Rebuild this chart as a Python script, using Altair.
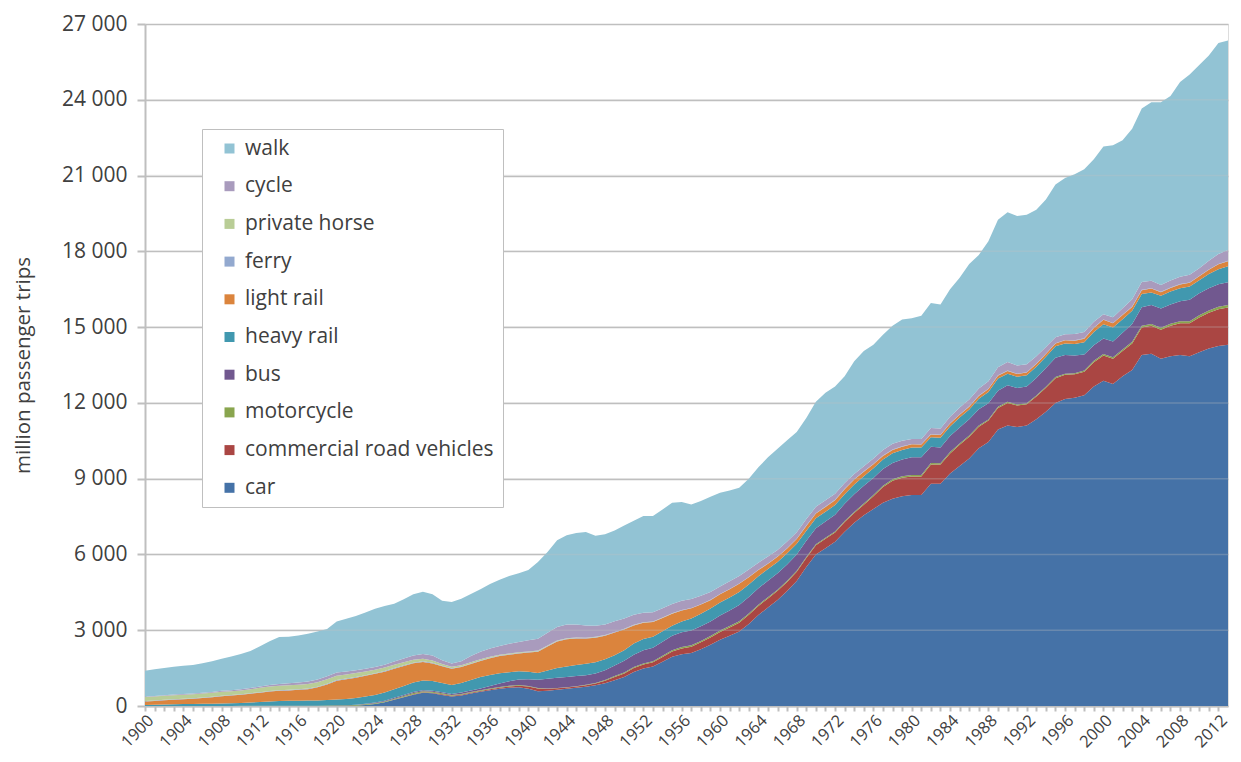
import altair as alt
import pandas as pd

years = list(range(1900, 2014))
x_tick_years = list(range(1900, 2013))

car = [0, 0, 0, 0, 0, 0, 0, 0, 0, 0,
       0, 0, 0, 0, 0, 0, 0, 0, 0, 0,
       0, 0, 10, 40, 80, 150, 250, 350, 450, 520,
       500, 440, 380, 420, 490, 560, 620, 680, 720, 740,
       680, 580, 600, 640, 680, 720, 760, 820, 900, 1020,
       1150, 1350, 1480, 1560, 1750, 1950, 2050, 2100, 2250, 2420,
       2620, 2780, 2950, 3250, 3600, 3900, 4200, 4550, 4950, 5500,
       6000, 6250, 6500, 6900, 7250, 7550, 7800, 8050, 8200, 8300,
       8350, 8350, 8800, 8800, 9200, 9500, 9800, 10200, 10450, 10950,
       11100, 11050, 11100, 11350, 11650, 12000, 12150, 12200, 12300, 12650,
       12880, 12750, 13050, 13300, 13900, 13950, 13750, 13850, 13900, 13850,
       14000, 14150, 14250, 14300]

commercial = [0, 0, 0, 0, 0, 0, 0, 0, 0, 0,
              0, 0, 0, 0, 0, 0, 0, 0, 0, 0,
              0, 0, 0, 0, 0, 0, 5, 10, 20, 25,
              25, 25, 25, 30, 30, 35, 40, 45, 50, 60,
              90, 110, 80, 60, 50, 50, 60, 70, 100, 130,
              140, 150, 160, 170, 190, 210, 230, 250, 270, 290,
              310, 330, 350, 360, 360, 360, 360, 360, 360, 360,
              360, 370, 370, 380, 390, 420, 500, 620, 720, 740,
              740, 740, 760, 760, 800, 840, 860, 860, 850, 850,
              900, 850, 850, 900, 950, 980, 960, 930, 930, 960,
              1000, 1000, 1000, 1050, 1080, 1100, 1150, 1200, 1250, 1300,
              1380, 1420, 1460, 1480]

motorcycle = [0, 0, 0, 0, 0, 0, 0, 0, 0, 0,
              5, 5, 8, 10, 10, 10, 10, 10, 10, 15,
              20, 20, 25, 25, 30, 30, 35, 35, 40, 40,
              40, 35, 30, 30, 30, 30, 30, 30, 30, 30,
              25, 20, 15, 15, 15, 15, 20, 25, 30, 35,
              40, 40, 45, 45, 50, 50, 55, 55, 55, 60,
              60, 60, 55, 55, 50, 50, 45, 45, 40, 40,
              40, 40, 40, 45, 45, 45, 50, 50, 55, 55,
              60, 60, 60, 55, 55, 50, 50, 45, 45, 45,
              45, 40, 40, 40, 40, 40, 40, 45, 50, 55,
              60, 60, 65, 70, 70, 75, 75, 80, 80, 85,
              90, 90, 95, 100]

bus = [0, 0, 0, 0, 0, 0, 0, 0, 0, 0,
       0, 0, 0, 0, 0, 0, 0, 0, 0, 0,
       5, 10, 15, 20, 25, 30, 35, 40, 40, 40,
       40, 40, 40, 50, 60, 70, 100, 140, 180, 220,
       260, 330, 380, 400, 400, 400, 380, 370, 390, 420,
       460, 490, 520, 530, 550, 570, 580, 580, 580, 580,
       590, 610, 640, 650, 650, 650, 650, 650, 650, 640,
       640, 640, 660, 680, 700, 700, 680, 660, 650, 660,
       700, 700, 640, 620, 630, 640, 640, 640, 640, 640,
       650, 650, 660, 700, 740, 770, 750, 700, 640, 620,
       610, 620, 660, 700, 740, 750, 760, 770, 790, 850,
       870, 880, 890, 900]

heavy_rail = [40, 50, 60, 70, 75, 80, 85, 90, 100, 105,
              110, 130, 150, 170, 190, 195, 200, 205, 210, 220,
              235, 250, 270, 290, 300, 320, 340, 360, 380, 380,
              380, 370, 360, 380, 420, 450, 440, 400, 360, 330,
              300, 270, 330, 390, 420, 440, 450, 450, 430, 400,
              420, 440, 450, 440, 420, 400, 430, 480, 500, 510,
              520, 520, 520, 500, 480, 460, 450, 440, 420, 400,
              390, 390, 385, 380, 380, 380, 380, 380, 380, 380,
              380, 380, 380, 380, 385, 390, 390, 420, 450, 480,
              460, 440, 440, 440, 445, 450, 455, 460, 480, 520,
              560, 550, 540, 530, 520, 500, 510, 510, 520, 520,
              520, 560, 600, 630]

light_rail = [140, 150, 165, 180, 195, 210, 230, 260, 290, 310,
              330, 350, 370, 390, 400, 410, 430, 450, 520, 620,
              740, 780, 800, 820, 840, 830, 810, 790, 760, 740,
              700, 660, 640, 630, 630, 640, 660, 680, 690, 700,
              760, 840, 950, 1050, 1080, 1050, 1000, 970, 930, 900,
              820, 720, 640, 580, 520, 470, 440, 400, 360, 330,
              320, 320, 320, 280, 240, 210, 200, 190, 190, 190,
              190, 190, 195, 200, 200, 180, 160, 140, 130, 130,
              130, 120, 110, 110, 110, 110, 110, 110, 110, 110,
              110, 110, 110, 110, 110, 110, 120, 130, 140, 160,
              180, 170, 160, 150, 150, 150, 140, 140, 150, 150,
              150, 170, 190, 200]

ferry = [20, 20, 20, 20, 20, 20, 20, 20, 20, 20,
         20, 20, 20, 20, 25, 25, 25, 25, 25, 25,
         25, 25, 25, 25, 25, 25, 25, 25, 25, 25,
         25, 20, 20, 20, 20, 20, 20, 20, 20, 20,
         20, 20, 20, 20, 20, 20, 20, 20, 20, 20,
         20, 15, 15, 15, 15, 15, 15, 15, 15, 15,
         15, 15, 15, 15, 15, 15, 15, 15, 15, 15,
         15, 15, 15, 15, 15, 15, 15, 15, 15, 15,
         15, 15, 15, 15, 15, 15, 15, 15, 15, 15,
         15, 15, 15, 15, 15, 15, 15, 15, 15, 15,
         15, 15, 15, 15, 15, 15, 15, 15, 15, 15,
         15, 15, 15, 15]

private_horse = [160, 160, 160, 160, 160, 155, 155, 150, 150, 150,
                 150, 160, 170, 180, 180, 180, 180, 180, 175, 175,
                 170, 165, 160, 150, 140, 135, 130, 125, 115, 100,
                 90, 70, 60, 55, 50, 45, 40, 35, 30, 28,
                 26, 24, 22, 20, 18, 16, 14, 12, 10, 9,
                 8, 7, 6, 5, 4, 3, 2, 2, 1, 1,
                 0, 0, 0, 0, 0, 0, 0, 0, 0, 0,
                 0, 0, 0, 0, 0, 0, 0, 0, 0, 0,
                 0, 0, 0, 0, 0, 0, 0, 0, 0, 0,
                 0, 0, 0, 0, 0, 0, 0, 0, 0, 0,
                 0, 0, 0, 0, 0, 0, 0, 0, 0, 0,
                 0, 0, 0, 0]

cycle = [20, 20, 25, 25, 30, 30, 35, 35, 40, 40,
         45, 50, 55, 60, 70, 80, 90, 100, 110, 120,
         130, 120, 110, 100, 100, 110, 130, 150, 170, 190,
         200, 150, 130, 160, 250, 300, 330, 350, 380, 410,
         440, 470, 500, 530, 540, 520, 480, 440, 420, 420,
         410, 400, 380, 370, 370, 370, 360, 350, 330, 310,
         300, 300, 300, 290, 280, 270, 260, 260, 255, 255,
         250, 250, 240, 230, 200, 200, 210, 220, 230, 220,
         200, 210, 240, 250, 260, 270, 270, 280, 300, 320,
         340, 330, 310, 290, 260, 230, 230, 250, 250, 230,
         200, 230, 260, 290, 310, 300, 270, 280, 290, 300,
         310, 340, 390, 430]

walk = [1020, 1050, 1070, 1095, 1110, 1125, 1165, 1215, 1270, 1335,
        1400, 1465, 1597, 1730, 1855, 1840, 1855, 1890, 1900, 1875,
        2025, 2080, 2145, 2230, 2310, 2330, 2290, 2345, 2420, 2460,
        2420, 2360, 2435, 2475, 2450, 2470, 2550, 2620, 2690, 2722,
        2779, 3036, 3203, 3435, 3537, 3619, 3706, 3563, 3570, 3596,
        3682, 3718, 3824, 3805, 3911, 4012, 3918, 3748, 3759, 3764,
        3705, 3595, 3490, 3600, 3775, 3935, 4000, 4010, 3970, 4000,
        4165, 4255, 4245, 4220, 4470, 4560, 4505, 4565, 4670, 4800,
        4775, 4875, 4945, 4910, 5045, 5135, 5365, 5280, 5540, 5840,
        5930, 5915, 5925, 5805, 5840, 6055, 6180, 6320, 6445, 6440,
        6645, 6805, 6650, 6745, 6865, 7060, 7230, 7305, 7705, 7930,
        8045, 8125, 8360, 8295]

# stacking order: bottom to top
modes = ["car", "commercial road vehicles", "motorcycle", "bus", "heavy rail",
         "light rail", "ferry", "private horse", "cycle", "walk"]
series = [car, commercial, motorcycle, bus, heavy_rail, light_rail, ferry,
          private_horse, cycle, walk]
colors = ["#4572A7", "#AA4643", "#89A54E", "#71588F", "#4198AF",
          "#DB843D", "#93A9CF", "#B9CD96", "#A99BBD", "#92C3D4"]

y_ticks = [0, 3000, 6000, 9000, 12000, 15000, 18000, 21000, 24000, 27000]
grid_overlay = [3000, 6000, 9000, 12000, 15000, 18000, 21000, 24000]

rows = []
for rank, (m, vals) in enumerate(zip(modes, series)):
    for yr, v in zip(years, vals):
        rows.append({"year": yr, "mode": m, "value": v, "rank": rank})
df = pd.DataFrame(rows)

legend_order = modes[::-1]
legend_colors = colors[::-1]

FONT = "Open Sans"
TXT = "#404040"
GRID = "#BFBFBF"

area = alt.Chart(df).mark_area(interpolate="linear", opacity=1).encode(
    x=alt.X("year:Q",
            scale=alt.Scale(domain=[1900, 2013], nice=False, zero=False),
            axis=alt.Axis(values=x_tick_years, format="d",
                          labelExpr="datum.value % 4 == 0 ? datum.label : ''",
                          labelAngle=-45, labelOverlap=False, labelFlush=False,
                          labelBound=False,
                          grid=False, tickSize=5, tickColor=GRID, tickWidth=2,
                          domainColor=GRID, domainWidth=2,
                          labelFontSize=16.5, labelFont=FONT, labelColor=TXT,
                          labelPadding=1, title=None)),
    y=alt.Y("value:Q", stack="zero",
            scale=alt.Scale(domain=[0, 27000], nice=False),
            axis=alt.Axis(values=y_ticks,
                          labelExpr="replace(format(datum.value, ','), ',', ' ')",
                          title="million passenger trips",
                          titleFont=FONT, titleFontSize=20.5, titleFontWeight="normal",
                          titleColor=TXT, titlePadding=28,
                          labelFont=FONT, labelFontSize=21, labelColor=TXT,
                          labelPadding=10, tickSize=8, tickColor=GRID, tickWidth=2,
                          domainColor=GRID, domainWidth=2,
                          grid=True, gridColor=GRID, gridWidth=1.5)),
    color=alt.Color("mode:N",
                    scale=alt.Scale(domain=legend_order, range=legend_colors),
                    sort=legend_order,
                    legend=alt.Legend(orient="none", legendX=57, legendY=105,
                                      title=None, fillColor="white",
                                      strokeColor=GRID, padding=9,
                                      symbolOffset=8, symbolType="square",
                                      symbolSize=100, symbolStrokeWidth=0,
                                      labelFont=FONT, labelFontSize=21,
                                      labelColor=TXT, labelOffset=5,
                                      labelLimit=500,
                                      rowPadding=15.7)),
    order=alt.Order("rank:Q", sort="ascending"),
)

overlay = alt.Chart(pd.DataFrame({"value": grid_overlay})).mark_rule(
    color=GRID, opacity=0.3, strokeWidth=1.5
).encode(y="value:Q")

chart = alt.layer(area, overlay).properties(
    width=1225, height=746,
    autosize=alt.AutoSizeParams(type="fit", contains="padding"),
    padding={"left": 5, "top": 5, "right": 4, "bottom": 3},
).configure_view(stroke=GRID, strokeWidth=1.5).configure(background="white")

chart.save("out.html", embed_options={"renderer": "svg", "actions": False})
